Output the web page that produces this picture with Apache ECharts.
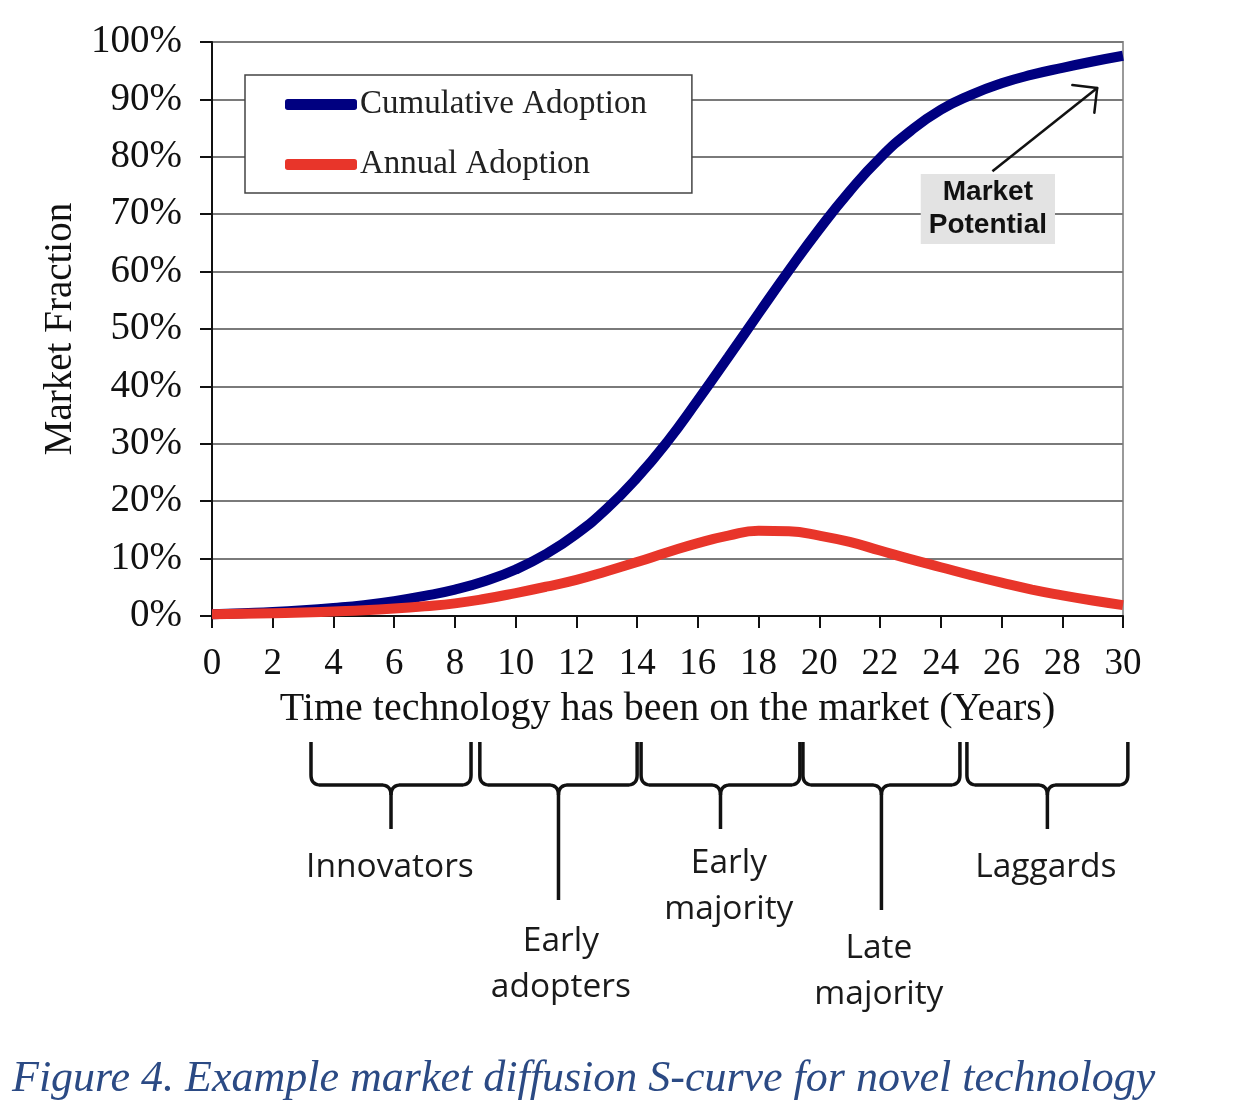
<!DOCTYPE html>
<html>
<head>
<meta charset="utf-8">
<script src="https://cdn.jsdelivr.net/npm/echarts@6/dist/echarts.min.js"></script>
<style>
html,body{margin:0;padding:0;background:#fff;}
#c{width:1248px;height:1112px;}
</style>
</head>
<body>
<div id="c"></div>
<script>
// ---- data ----
var years = [0,1,2,3,4,5,6,7,8,9,10,11,12,13,14,15,16,17,18,19,20,21,22,23,24,25,26,27,28,29,30];
var cumulative = [0.3,0.5,0.7,1.0,1.4,1.9,2.6,3.5,4.6,6.1,8.1,10.8,14.3,18.7,24.1,30.4,37.6,45.1,52.7,60.2,67.4,74.0,79.8,84.5,88.2,90.8,92.8,94.3,95.5,96.6,97.6];
var annual = [0.3,0.4,0.5,0.6,0.8,1.0,1.3,1.7,2.2,3.0,4.0,5.1,6.3,7.8,9.4,11.1,12.7,14.0,14.85,14.75,14.0,12.9,11.4,9.9,8.5,7.1,5.8,4.6,3.6,2.7,1.9];
var seriesNames = ['Cumulative Adoption','Annual Adoption'];
var yTicks = {min:0, max:100, step:10};
var xTicks = {min:0, max:30, step:2};
var segments = ['Innovators','Early\nadopters','Early\nmajority','Late\nmajority','Laggards'];
var segmentRanges = [[3.26,8.53],[8.82,14.0],[14.13,19.36],[19.46,24.63],[24.86,30.16]];
var segmentLabelX = [5.86,11.49,17.02,21.96,27.46];
var annotationText = 'Market\nPotential';
var annotationAt = [25.55,70.9];
var arrowFrom = [25.7,77.5];
var arrowTo = [29.15,92.0];
var caption = 'Figure 4. Example market diffusion S-curve for novel technology';

function pairs(xs, ys){ return xs.map(function(x,i){return [x, ys[i]];}); }

var serif = '"Liberation Serif","Times New Roman",serif';
var sans = '"Open Sans","Noto Sans",sans-serif';

var chart = echarts.init(document.getElementById('c'), null, {renderer:'canvas'});
chart.setOption({
  animation:false,
  backgroundColor:'#fff',
  grid:{left:212,right:125,top:42,bottom:496,show:true,borderColor:'#9a9a9a',borderWidth:2,backgroundColor:'transparent'},
  legend:{
    data:seriesNames, orient:'vertical', left:245, top:75,
    padding:[13,45,12,40], itemGap:27, itemWidth:72, itemHeight:11, icon:'roundRect',
    backgroundColor:'#fff', borderColor:'#444', borderWidth:1.5, borderRadius:0,
    textStyle:{fontFamily:serif,fontSize:33,color:'#222',padding:[0,0,0,-2]}
  },
  xAxis:{
    type:'value', min:xTicks.min, max:xTicks.max, interval:xTicks.step,
    name:'Time technology has been on the market (Years)', nameLocation:'middle', nameGap:73,
    nameTextStyle:{fontFamily:serif,fontSize:40,color:'#111'},
    axisLine:{show:true,onZero:false,lineStyle:{color:'#111',width:2}},
    axisTick:{show:true,length:12,lineStyle:{color:'#111',width:2}},
    axisLabel:{fontFamily:serif,fontSize:37,color:'#111',margin:30},
    splitLine:{show:false}
  },
  yAxis:{
    type:'value', min:yTicks.min, max:yTicks.max, interval:yTicks.step,
    name:'Market Fraction', nameLocation:'middle', nameGap:125,
    nameTextStyle:{fontFamily:serif,fontSize:39,color:'#111'},
    axisLine:{show:true,lineStyle:{color:'#111',width:2}},
    axisTick:{show:true,length:12,lineStyle:{color:'#111',width:2}},
    axisLabel:{fontFamily:serif,fontSize:39,color:'#111',margin:30,formatter:'{value}%'},
    splitLine:{show:true,lineStyle:{color:'#7a7a7a',width:2}}
  },
  series:[
    {name:seriesNames[0],type:'line',data:pairs(years,cumulative),smooth:0.5,showSymbol:false,
     lineStyle:{color:'#000080',width:10},itemStyle:{color:'#000080'},z:3},
    {name:seriesNames[1],type:'line',data:pairs(years,annual),smooth:0.5,showSymbol:false,
     lineStyle:{color:'#e8352a',width:10},itemStyle:{color:'#e8352a'},z:4}
  ]
});

function px(x){ return chart.convertToPixel({xAxisIndex:0}, x); }
function py(y){ return chart.convertToPixel({yAxisIndex:0}, y); }

function quad(pts, p0, c, p1){
  for (var t = 0.1; t <= 1.0001; t += 0.1){
    var a = (1-t)*(1-t), b = 2*(1-t)*t, d = t*t;
    pts.push([a*p0[0]+b*c[0]+d*p1[0], a*p0[1]+b*c[1]+d*p1[1]]);
  }
}

var g = [];
// braces
var braceTop = 742, braceMid = 785, tips = [829,900,829,910,829];
segmentRanges.forEach(function(r,i){
  var x0 = px(r[0]), x1 = px(r[1]), c = (x0+x1)/2, q = 10;
  var left = [[x0,braceTop],[x0,braceMid-q]];
  quad(left,[x0,braceMid-q],[x0,braceMid],[x0+q,braceMid]);
  left.push([c-q,braceMid]);
  quad(left,[c-q,braceMid],[c,braceMid],[c,braceMid+q]);
  left.push([c,tips[i]]);
  var right = [[x1,braceTop],[x1,braceMid-q]];
  quad(right,[x1,braceMid-q],[x1,braceMid],[x1-q,braceMid]);
  right.push([c+q,braceMid]);
  quad(right,[c+q,braceMid],[c,braceMid],[c,braceMid+q]);
  [left,right].forEach(function(p){
    g.push({type:'polyline',shape:{points:p},style:{fill:null,stroke:'#111',lineWidth:3.5,lineJoin:'round'}});
  });
});
var labelY = [867,964,886,971,867];
segments.forEach(function(s,i){
  g.push({type:'text',x:px(segmentLabelX[i]),y:labelY[i],
    style:{text:s,fontFamily:sans,fontSize:33.5,fill:'#1a1a1a',align:'center',verticalAlign:'middle',lineHeight:46}});
});
// annotation
g.push({type:'text',x:px(annotationAt[0]),y:py(annotationAt[1]),
  style:{text:annotationText,fontFamily:'"Liberation Sans",Arial,sans-serif',fontWeight:'bold',fontSize:28,lineHeight:33,
    fill:'#111',align:'center',verticalAlign:'middle',backgroundColor:'#e3e3e3',padding:[2,8,2,8]}});
var ax0 = px(arrowFrom[0]), ay0 = py(arrowFrom[1]), ax1 = px(arrowTo[0]), ay1 = py(arrowTo[1]);
g.push({type:'line',shape:{x1:ax0,y1:ay0,x2:ax1,y2:ay1},style:{stroke:'#111',lineWidth:2.5}});
var ang = Math.atan2(ay0-ay1, ax0-ax1), L = 25;
[Math.PI/4,-Math.PI/4].forEach(function(da){
  g.push({type:'line',shape:{x1:ax1,y1:ay1,x2:ax1+L*Math.cos(ang+da),y2:ay1+L*Math.sin(ang+da)},
    style:{stroke:'#111',lineWidth:2.5,lineCap:'round'}});
});
// caption
g.push({type:'text',x:12,y:1079,style:{text:caption,fontFamily:serif,fontStyle:'italic',fontSize:44,fill:'#2b4a84',align:'left',verticalAlign:'middle'}});

chart.setOption({graphic:g});
</script>
</body>
</html>
